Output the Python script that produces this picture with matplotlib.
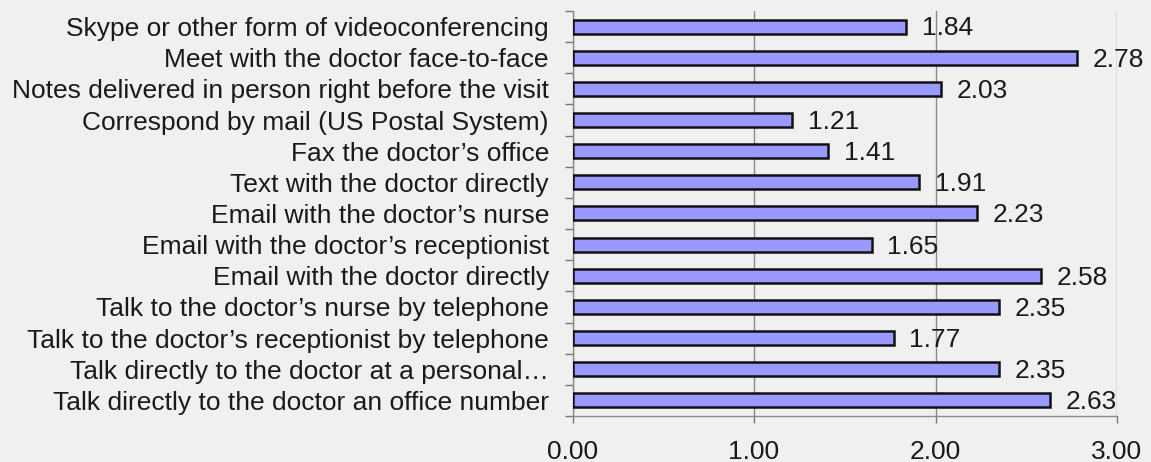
import matplotlib

matplotlib.use("Agg")
import matplotlib.pyplot as plt
from matplotlib.ticker import FixedLocator

# top-to-bottom as shown in the chart
categories = [
    "Skype or other form of videoconferencing",
    "Meet with the doctor face-to-face",
    "Notes delivered in person right before the visit",
    "Correspond by mail (US Postal System)",
    "Fax the doctor\u2019s office",
    "Text with the doctor directly",
    "Email with the doctor\u2019s nurse",
    "Email with the doctor\u2019s receptionist",
    "Email with the doctor directly",
    "Talk to the doctor\u2019s nurse by telephone",
    "Talk to the doctor\u2019s receptionist by telephone",
    "Talk directly to the doctor at a personal\u2026",
    "Talk directly to the doctor an office number",
]
scores = [1.84, 2.78, 2.03, 1.21, 1.41, 1.91, 2.23, 1.65, 2.58, 2.35, 1.77, 2.35, 2.63]
x_ticks = [0.0, 1.0, 2.0, 3.0]

plt.rcParams["font.family"] = ["Liberation Sans", "DejaVu Sans"]
bg = "#f0f0f0"
ink = "#1a1a1a"

fig = plt.figure(figsize=(11.51, 4.62), dpi=100, facecolor=bg)
ax = fig.add_axes([0.4974, 0.0996, 0.4731, 0.8766], facecolor=bg)

n = len(categories)
ypos = list(range(n - 1, -1, -1))
ax.barh(ypos, scores, height=0.45, color="#9999ff", edgecolor="#111111", linewidth=1.8, zorder=3)

for y, v in zip(ypos, scores):
    ax.text(v + 0.085, y - 0.06, f"{v:.2f}", va="center", ha="left", fontsize=19, color=ink, zorder=4)

ax.set_xlim(0, 3)
ax.set_ylim(-0.5, n - 0.5)
ax.set_xticks(x_ticks)
ax.set_xticklabels([f"{t:.2f}" for t in x_ticks], fontsize=19, color=ink)
ax.set_yticks(ypos)
ax.set_yticklabels(categories, fontsize=19, color=ink)
ax.tick_params(axis="y", which="major", length=0, pad=17)
ax.yaxis.set_minor_locator(FixedLocator([i - 0.5 for i in range(n + 1)]))
ax.tick_params(axis="y", which="minor", length=6, color="#777777", width=1.0)
ax.tick_params(axis="x", which="major", length=5, color="#777777", width=1.0, pad=12)

ax.grid(True, axis="x", color="#8a8a8a", linewidth=1.0, zorder=0)
for side in ("top", "right"):
    ax.spines[side].set_visible(False)
for side in ("left", "bottom"):
    ax.spines[side].set_color("#8a8a8a")
    ax.spines[side].set_linewidth(1.0)

fig.savefig("out.png", dpi=100, facecolor=bg)
